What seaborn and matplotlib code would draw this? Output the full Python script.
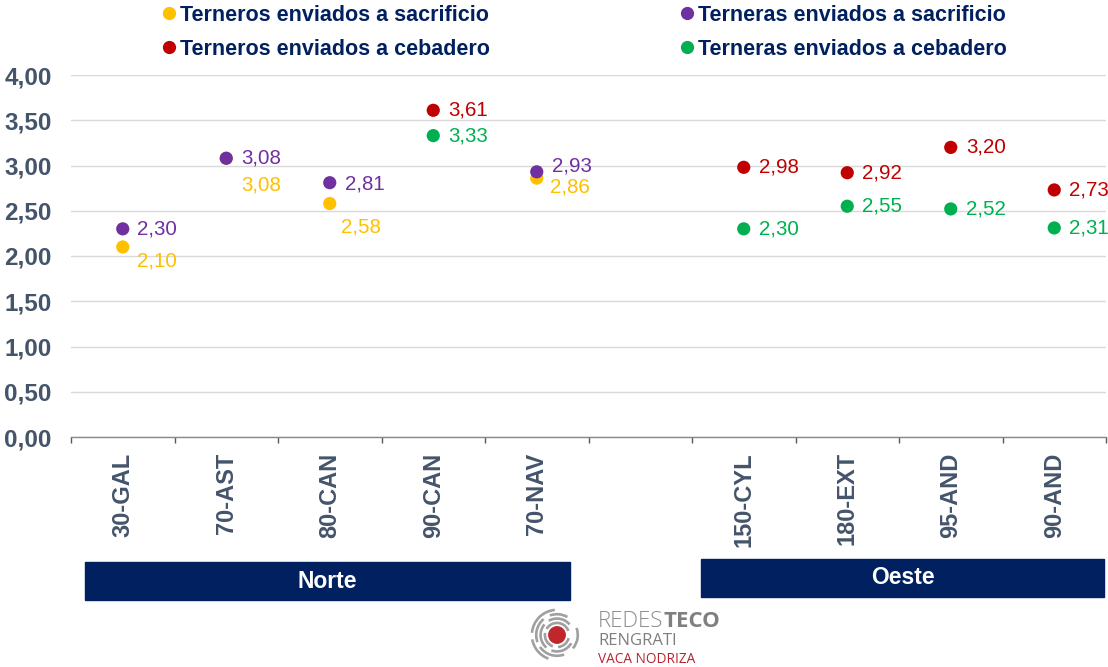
import numpy as np
import pandas as pd
import seaborn as sns
import matplotlib.pyplot as plt
from matplotlib.lines import Line2D
from matplotlib.patches import Rectangle, Circle, Arc
from matplotlib.transforms import blended_transform_factory

# categorias del eje x (la sexta es el hueco entre Norte y Oeste)
categorias = ["30-GAL", "70-AST", "80-CAN", "90-CAN", "70-NAV", " ",
              "150-CYL", "180-EXT", "95-AND", "90-AND"]

series = ["Terneros enviados a sacrificio", "Terneras enviados a sacrificio",
          "Terneros enviados a cebadero", "Terneras enviados a cebadero"]
colores = ["#FFC000", "#7030A0", "#C00000", "#00B050"]

terneros_sacrificio_cat = ["30-GAL", "70-AST", "80-CAN", "70-NAV"]
terneros_sacrificio_val = [2.10, 3.08, 2.58, 2.86]

terneras_sacrificio_cat = ["30-GAL", "70-AST", "80-CAN", "70-NAV"]
terneras_sacrificio_val = [2.30, 3.08, 2.81, 2.93]

terneros_cebadero_cat = ["90-CAN", "150-CYL", "180-EXT", "95-AND", "90-AND"]
terneros_cebadero_val = [3.61, 2.98, 2.92, 3.20, 2.73]

terneras_cebadero_cat = ["90-CAN", "150-CYL", "180-EXT", "95-AND", "90-AND"]
terneras_cebadero_val = [3.33, 2.30, 2.55, 2.52, 2.31]

regiones = ["Norte", "Oeste"]

# desplazamiento de las etiquetas de valor (pixeles)
offsets = {
    series[0]: [(14, -14), (15, -27), (11, -23), (13, -9)],
    series[1]: [(14, 0), (15, 0), (15, -1), (15, 6)],
    series[2]: [(15, 0)] * 5,
    series[3]: [(15, 0)] * 5,
}

NAVY = "#002060"
SLATE = "#44546A"

rows = []
for s, cats, vals in zip(series,
                         [terneros_sacrificio_cat, terneras_sacrificio_cat,
                          terneros_cebadero_cat, terneras_cebadero_cat],
                         [terneros_sacrificio_val, terneras_sacrificio_val,
                          terneros_cebadero_val, terneras_cebadero_val]):
    for c, v in zip(cats, vals):
        rows.append({"serie": s, "categoria": c, "valor": v})
df = pd.DataFrame(rows)

sns.set_style("white")
plt.rcParams["font.family"] = ["Liberation Sans", "DejaVu Sans"]

fig = plt.figure(figsize=(11.08, 6.67), dpi=100)
ax = fig.add_axes([71 / 1108, 1 - 437 / 667, 1035 / 1108, 362 / 667])

sns.stripplot(data=df, x="categoria", y="valor", hue="serie", order=categorias,
              hue_order=series, palette=colores, jitter=False, dodge=False,
              size=9.5, linewidth=0, legend=False, ax=ax, zorder=3)

# etiquetas de valor
for s, col in zip(series, colores):
    sub = df[df["serie"] == s].reset_index(drop=True)
    for i, r in sub.iterrows():
        x = categorias.index(r["categoria"])
        dx, dy = offsets[s][i]
        ax.annotate(f"{r['valor']:.2f}".replace(".", ","), (x, r["valor"]),
                    xytext=(dx, dy), textcoords="offset pixels",
                    ha="left", va="center", fontsize=14.8, color=col,
                    annotation_clip=False, zorder=4)

ax.set_xlim(-0.5, len(categorias) - 0.5)
ax.set_ylim(0, 4)
ax.set_yticks(np.arange(0, 4.01, 0.5))
ax.set_yticklabels([f"{v:.2f}".replace(".", ",") for v in np.arange(0, 4.01, 0.5)])
ax.set_xticks(range(len(categorias)))
ax.set_xticklabels(categorias)
ax.set_xticks(np.arange(-0.5, len(categorias), 1), minor=True)
ax.set_xlabel("")
ax.set_ylabel("")

ax.grid(axis="y", color="#D9D9D9", linewidth=1)
ax.grid(axis="x", visible=False)
ax.set_axisbelow(True)
for side in ["left", "right", "top"]:
    ax.spines[side].set_visible(False)
ax.spines["bottom"].set_color("#898989")
ax.spines["bottom"].set_linewidth(1)
ax.spines["bottom"].set_zorder(2)

ax.tick_params(axis="y", length=0, pad=14, labelsize=17.5, labelcolor=SLATE)
for t in ax.get_yticklabels():
    t.set_fontweight("bold")
ax.tick_params(axis="x", which="major", length=0, pad=11, labelsize=17,
               labelcolor=SLATE, labelrotation=90)
for t in ax.get_xticklabels():
    t.set_fontweight("bold")
ax.tick_params(axis="x", which="minor", length=4, width=1, color="#595959",
               direction="out", bottom=True)

# leyenda en dos columnas
handles = [Line2D([], [], marker="o", ls="", color=c, markersize=8.5) for c in colores]
leg_kws = dict(frameon=False, handlelength=0.55, handletextpad=0.25,
               labelspacing=0.6, borderpad=0, borderaxespad=0, loc="upper left",
               labelcolor=NAVY, prop={"weight": "bold", "size": 15.5})
leg1 = fig.legend([handles[0], handles[2]], [series[0], series[2]],
                  bbox_to_anchor=(163 / 1108, 1 - 5 / 667), **leg_kws)
leg2 = fig.legend([handles[1], handles[3]], [series[1], series[3]],
                  bbox_to_anchor=(681 / 1108, 1 - 5 / 667), **leg_kws)

# bandas de region
tr = blended_transform_factory(ax.transData, fig.transFigure)
bandas = [(-0.367, 4.32, 1 - 600 / 667, 38 / 667), (5.59, 9.48, 1 - 597 / 667, 38 / 667)]
for nombre, (x0, x1, y0, h) in zip(regiones, bandas):
    ax.add_patch(Rectangle((x0, y0), x1 - x0, h, transform=tr, color=NAVY,
                           clip_on=False, zorder=5))
    ax.text((x0 + x1) / 2, y0 + h / 2, nombre, transform=tr, ha="center",
            va="center", color="white", fontsize=16.5, fontweight="bold",
            zorder=6, clip_on=False)

# logo
lax = fig.add_axes([528 / 1108, 3 / 667, 58 / 1108, 58 / 667])
lax.set_xlim(0, 60)
lax.set_ylim(0, 60)
lax.set_aspect("equal")
lax.axis("off")
cx, cy = 30, 30
lax.add_patch(Circle((cx, cy), 8.5, color="#C0272D"))
arcos = [(12.5, [(20, 150), (170, 250), (275, 345)]),
         (17, [(40, 120), (140, 230), (250, 330)]),
         (21.5, [(60, 110), (130, 200), (215, 290), (320, 20)]),
         (26, [(95, 175), (190, 250)])]
for r, tramos in arcos:
    for a0, a1 in tramos:
        lax.add_patch(Arc((cx, cy), 2 * r, 2 * r, theta1=a0, theta2=a1,
                          color="#A0A0A0", lw=1.9))
logo_font = ["Open Sans", "DejaVu Sans"]
t1 = fig.text(598 / 1108, 1 - 627 / 667, "REDES", fontsize=16, color="#8C8C8C",
              family=logo_font, fontweight="light")
renderer = fig.canvas.get_renderer()
bb = t1.get_window_extent(renderer)
fig.text(bb.x1 / 1108 + 0.0005, 1 - 627 / 667, "TECO", fontsize=16, color="#7F7F7F",
         family=logo_font, fontweight="bold")
fig.text(598 / 1108, 1 - 645 / 667, "RENGRATI", fontsize=12, color="#7F7F7F",
         family=logo_font)
fig.text(598 / 1108, 1 - 663 / 667, "VACA NODRIZA", fontsize=9.8, color="#B8232F",
         family=logo_font)

fig.savefig("out.png", dpi=100)
